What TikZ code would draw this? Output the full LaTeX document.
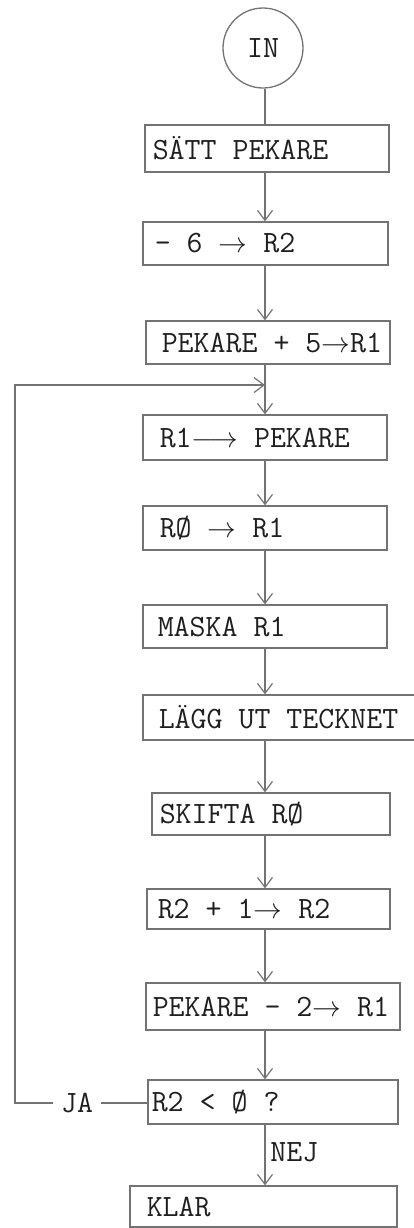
\documentclass[tikz,border=0pt]{standalone}
\usepackage{fontspec}
\usetikzlibrary{arrows.meta}
\definecolor{lc}{gray}{0.45}
\definecolor{tc}{gray}{0.12}
\tikzset{
  boxn/.style={draw=lc, line width=0.65pt, inner sep=0pt},
  lbl/.style={text=tc, font=\ttfamily\fontsize{15.5}{18}\selectfont, inner sep=0pt},
  conn/.style={draw=lc, line width=0.6pt},
  arr/.style={conn, -{Straight Barb[length=5pt,width=7.5pt]}},
}
\begin{document}
\begin{tikzpicture}[x=0.5pt,y=-0.5pt]
\useasboundingbox (0,0) rectangle (413,1228);
\coordinate (cx) at (265,0);
% start
\node[boxn, circle, minimum size=40pt] (in) at (263,48) {};
\node[lbl] (tin) at (in.center) {IN};
% boxes
\node[boxn, minimum width=122pt, minimum height=23.5pt] (b1) at (267,148.5) {};
\node[lbl, anchor=west] (t1) at ([xshift=4pt]b1.west) {SÄTT PEKARE};
\node[boxn, minimum width=122.5pt, minimum height=21.5pt] (b2) at (265.5,243.5) {};
\node[lbl, anchor=west] (t2) at ([xshift=6pt]b2.west) {- 6 $\rightarrow$ R2};
\node[boxn, minimum width=122pt, minimum height=21.5pt] (b3) at (268,342.5) {};
\node[lbl, anchor=west] (t3) at ([xshift=8pt]b3.west) {PEKARE + 5$\rightarrow$R1};
\node[boxn, minimum width=122pt, minimum height=22.5pt] (b4) at (265,437.5) {};
\node[lbl, anchor=west] (t4) at ([xshift=8.5pt]b4.west) {R1$\longrightarrow$ PEKARE};
\node[boxn, minimum width=122pt, minimum height=22pt] (b5) at (265,528) {};
\node[lbl, anchor=west] (t5) at ([xshift=8.5pt]b5.west) {RØ $\rightarrow$ R1};
\node[boxn, minimum width=122pt, minimum height=21.5pt] (b6) at (265,626.5) {};
\node[lbl, anchor=west] (t6) at ([xshift=7.5pt]b6.west) {MASKA R1};
\node[boxn, minimum width=138.5pt, minimum height=22.5pt] (b7) at (281.5,717.5) {};
\node[lbl, anchor=west] (t7) at ([xshift=8pt]b7.west) {LÄGG UT TECKNET};
\node[boxn, minimum width=119pt, minimum height=21pt] (b8) at (271,814) {};
\node[lbl, anchor=west] (t8) at ([xshift=4pt]b8.west) {SKIFTA RØ};
\node[boxn, minimum width=121.5pt, minimum height=20pt] (b9) at (268.5,909) {};
\node[lbl, anchor=west] (t9) at ([xshift=5.5pt]b9.west) {R2 + 1$\rightarrow$ R2};
\node[boxn, minimum width=127pt, minimum height=23.5pt] (b10) at (273,1006.5) {};
\node[lbl, anchor=west] (t10) at ([xshift=3.5pt]b10.west) {PEKARE  - 2$\rightarrow$ R1};
\node[boxn, minimum width=125pt, minimum height=22pt] (b11) at (273,1102) {};
\node[lbl, anchor=west] (t11) at ([xshift=2pt]b11.west) {R2 < Ø ?};
\node[boxn, minimum width=133.5pt, minimum height=20.5pt] (b12) at (263.5,1206.5) {};
\node[lbl, anchor=west] (t12) at ([xshift=8.5pt]b12.west) {KLAR};
% labels
\node[lbl, inner xsep=4pt] (ja) at (77,1103) {JA};
\node[lbl, anchor=west] (nej) at (270,1152) {NEJ};
% connectors
\draw[conn] (in.south -| cx) -- (b1.north -| cx);
\draw[arr] (b1.south -| cx) -- (b2.north -| cx);
\draw[arr] (b2.south -| cx) -- (b3.north -| cx);
\draw[arr] (b3.south -| cx) -- (b4.north -| cx);
\draw[arr] (b4.south -| cx) -- (b5.north -| cx);
\draw[arr] (b5.south -| cx) -- (b6.north -| cx);
\draw[arr] (b6.south -| cx) -- (b7.north -| cx);
\draw[arr] (b7.south -| cx) -- (b8.north -| cx);
\draw[arr] (b8.south -| cx) -- (b9.north -| cx);
\draw[arr] (b9.south -| cx) -- (b10.north -| cx);
\draw[arr] (b10.south -| cx) -- (b11.north -| cx);
\draw[arr] (b11.south -| cx) -- (b12.north -| cx);
% loop back
\coordinate (lc1) at (15,1103);
\coordinate (lc2) at (15,385);
\coordinate (join) at (265,385);
\draw[conn] (b11.west |- ja) -- (ja.east);
\draw[arr] (ja.west) -- (lc1) -- (lc2) -- (join);
\end{tikzpicture}
\end{document}
